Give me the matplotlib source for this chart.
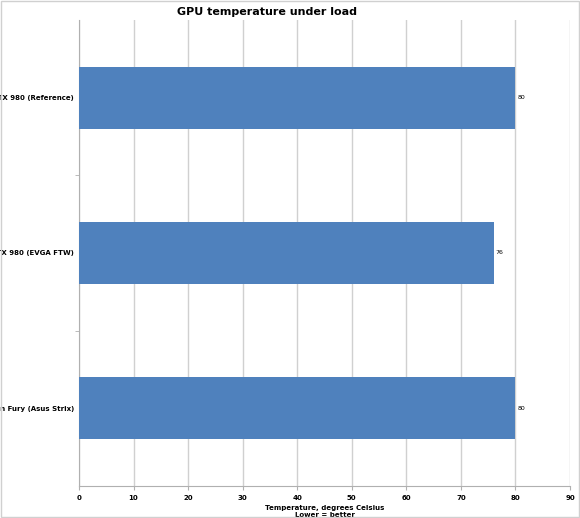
import matplotlib
matplotlib.use("Agg")
import matplotlib.pyplot as plt

categories = ["AMD Radeon Fury (Asus Strix)", "Nvidia GTX 980 (EVGA FTW)", "Nvidia GTX 980 (Reference)"]
values = [80, 76, 80]
xticks = list(range(0, 100, 10))

plt.rcParams["font.family"] = ["Liberation Sans Narrow", "DejaVu Sans"]

fig = plt.figure(figsize=(5.8, 5.18), dpi=100)
fig.patches.append(plt.Rectangle((0.002, 0.002), 0.996, 0.996, transform=fig.transFigure,
                                 fill=False, edgecolor="#d0d0d0", lw=1))
ax = fig.add_axes([79/580, 1-486/518, (570-79)/580, (486-20)/518])
bars = ax.barh(range(len(categories)), values, height=0.4, color="#4f81bd", zorder=3)
for b, v in zip(bars, values):
    ax.text(b.get_width() + 0.4, b.get_y() + b.get_height()/2, str(v), va="center", fontsize=4.5)
ax.set_xlim(0, 90)
ax.set_ylim(-0.5, 2.5)
ax.set_xticks(xticks)
ax.set_xticklabels([str(t) for t in xticks], fontsize=5, fontweight="bold")
ax.set_yticks(range(len(categories)))
ax.set_yticklabels(categories, fontsize=5, fontweight="bold")
ax.set_yticks([0.5, 1.5], minor=True)
ax.tick_params(axis="y", which="major", length=0)
ax.tick_params(axis="y", which="minor", length=3, color="#b0b0b0")
ax.tick_params(axis="x", length=3, color="#b0b0b0")
ax.grid(axis="x", color="#d0d0d0", lw=1, zorder=0)
for s in ["top", "right"]:
    ax.spines[s].set_visible(False)
for s in ["left", "bottom"]:
    ax.spines[s].set_color("#b0b0b0")
ax.set_xlabel("Temperature, degrees Celsius\nLower = better", fontsize=5, fontweight="bold", labelpad=3)
fig.text(0.5 - 0.04, 1-12/518, "GPU temperature under load", ha="center", va="center", fontsize=8, fontweight="bold")
fig.savefig("out.png", dpi=100)
